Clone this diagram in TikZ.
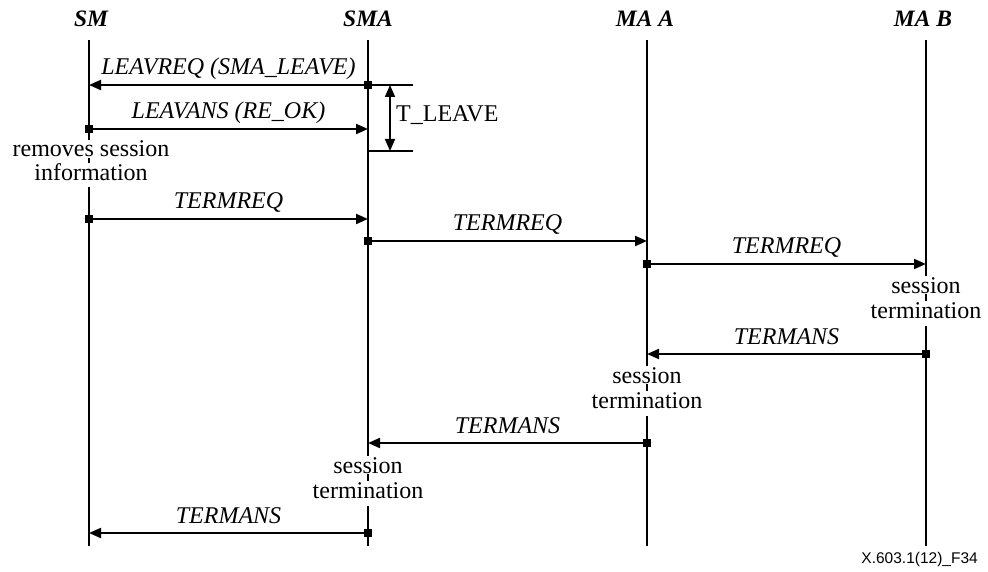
\documentclass[tikz,border=0pt]{standalone}
\usepackage{fontspec}
\setmainfont{Liberation Serif}
\setsansfont{Liberation Sans}
\usetikzlibrary{arrows.meta}
\begin{document}
\begin{tikzpicture}[x=1pt,y=-1pt,
  life/.style={line width=1.6pt},
  msg/.style={line width=2pt,-{Triangle[length=12pt,width=10pt]}},
  lbl/.style={font=\fontsize{24}{26}\selectfont\itshape, anchor=base, yshift=10pt, inner sep=0pt},
  hdr/.style={font=\fontsize{23.5}{26}\selectfont\bfseries\itshape, anchor=base},
  note/.style={font=\fontsize{24}{26}\selectfont, fill=white, inner xsep=1pt, inner ysep=1pt, anchor=base},
  startsq/.style={fill=black, rectangle, minimum size=8pt, inner sep=0pt, draw=none},
  tick/.style={line width=1.6pt}
]
\useasboundingbox (0,0) rectangle (988,572);

% headers
\node[hdr] (hSM)  at (91,27)  {SM};
\node[hdr] (hSMA) at (368,27) {SMA};
\node[hdr] (hMAA) at (645,27) {MA A};
\node[hdr] (hMAB) at (923,27) {MA B};

% lifelines
\coordinate (sm0) at (89,40);   \coordinate (sm9) at (89,546);
\coordinate (sa0) at (368,40);  \coordinate (sa9) at (368,546);
\coordinate (ma0) at (647,40);  \coordinate (ma9) at (647,546);
\coordinate (mb0) at (926,40);  \coordinate (mb9) at (926,546);
\draw[life] (sm0) -- (sm9);
\draw[life] (sa0) -- (sa9);
\draw[life] (ma0) -- (ma9);
\draw[life] (mb0) -- (mb9);

% message end points
\coordinate (a1) at (368,85);  \coordinate (b1) at (89,85);
\coordinate (a2) at (89,129);  \coordinate (b2) at (368,129);
\coordinate (a3) at (89,219);  \coordinate (b3) at (368,219);
\coordinate (a4) at (368,241); \coordinate (b4) at (647,241);
\coordinate (a5) at (647,264); \coordinate (b5) at (926,264);
\coordinate (a6) at (926,354); \coordinate (b6) at (647,354);
\coordinate (a7) at (647,443); \coordinate (b7) at (368,443);
\coordinate (a8) at (368,533); \coordinate (b8) at (89,533);

\draw[msg] (a1) -- node[lbl] {LEAVREQ (SMA\_LEAVE)} (b1);
\draw[msg] (a2) -- node[lbl] {LEAVANS (RE\_OK)} (b2);
\draw[msg] (a3) -- node[lbl] {TERMREQ} (b3);
\draw[msg] (a4) -- node[lbl] {TERMREQ} (b4);
\draw[msg] (a5) -- node[lbl] {TERMREQ} (b5);
\draw[msg] (a6) -- node[lbl] {TERMANS} (b6);
\draw[msg] (a7) -- node[lbl] {TERMANS} (b7);
\draw[msg] (a8) -- node[lbl] {TERMANS} (b8);

\foreach \p in {a1,a2,a3,a4,a5,a6,a7,a8}
  \node[startsq] (sq\p) at (\p) {};

% T_LEAVE timer
\coordinate (t1) at (413,85);
\coordinate (t2s) at (368,151); \coordinate (t2) at (413,151);
\coordinate (ta) at (390,85); \coordinate (tb) at (390,151);
\draw[tick] (a1) -- (t1);
\draw[tick] (t2s) -- (t2);
\draw[line width=1.6pt,{Triangle[length=12pt,width=10pt]}-{Triangle[length=12pt,width=10pt]}] (ta) -- (tb);
\node[font=\fontsize{24}{26}\selectfont, anchor=base west, inner sep=0pt] (tl) at (396,122) {T\_LEAVE};

% notes
\node[note] (n1a) at (91,157) {removes session};
\node[note, text depth=5pt] (n1b) at (91,181) {information};
\node[note] (n2a) at (926,293) {session};
\node[note, text depth=7pt] (n2b) at (926,318) {termination};
\node[note] (n3a) at (647,383) {session};
\node[note, text depth=7pt] (n3b) at (647,408) {termination};
\node[note] (n4a) at (368,473) {session};
\node[note, text depth=7pt] (n4b) at (368,498) {termination};

% footer
\node[font=\sffamily\fontsize{15.5}{17}\selectfont, anchor=base east, inner sep=0pt] (ft) at (978,563) {X.603.1(12)\_F34};
\end{tikzpicture}
\end{document}
